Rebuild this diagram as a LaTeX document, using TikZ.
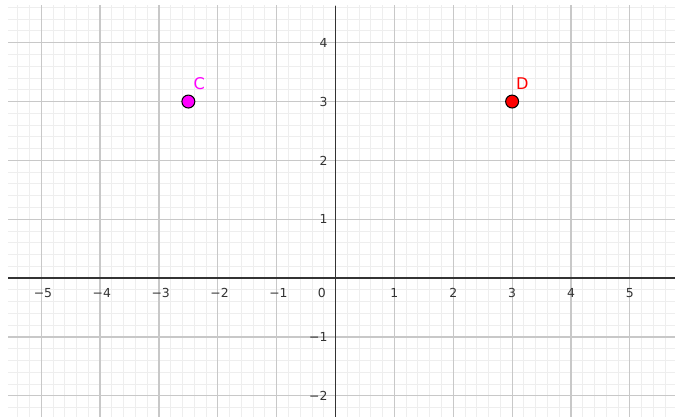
\documentclass[tikz,border=0pt]{standalone}
\usepackage{fontspec}
\setmainfont{DejaVu Sans}
\definecolor{ggmag}{RGB}{255,0,255}
\definecolor{ggred}{RGB}{255,0,0}
\definecolor{minorcol}{RGB}{238,238,238}
\definecolor{majorcol}{RGB}{200,200,200}
\definecolor{axiscol}{RGB}{51,51,51}
\begin{document}
\begin{tikzpicture}[
  minorgrid/.style={draw=minorcol, line width=0.45pt},
  majorgrid/.style={draw=majorcol, line width=0.55pt},
  axisline/.style={draw=axiscol, line width=0.8pt},
  ticklab/.style={text=axiscol, font=\fontsize{6}{7}\selectfont, inner sep=0pt},
  ptstyle/.style={circle, draw=black, line width=0.5pt, minimum size=0.22cm, inner sep=0pt},
  ptlab/.style={font=\fontsize{7.8}{9}\selectfont, inner sep=0pt}
]
\useasboundingbox (-5.700,-2.355) rectangle (5.767,4.725);
\fill[white] (-5.700,-2.355) rectangle (5.767,4.725);
\begin{scope}
\clip (-5.564,-2.355) rectangle (5.767,4.623);
\draw[minorgrid, step=0.2] (-5.8,-2.6) grid (5.8,4.8);
\draw[majorgrid, step=1] (-5.8,-2.6) grid (5.8,4.8);
\end{scope}
% axes
\coordinate (xl) at (-5.564,0);
\coordinate (xr) at (5.767,0);
\coordinate (yb) at (0,-2.355);
\coordinate (yt) at (0,4.623);
\draw[axisline] (xl) -- (xr);
\draw[axisline] (yb) -- (yt);
% x labels
\foreach \k/\t in {-5/−5,-4/−4,-3/−3,-2/−2,-1/−1} {
  \node[ticklab] (xlab\k) at (\k+0.03,-0.25) {\t};
}
\foreach \k in {1,2,3,4,5} {
  \node[ticklab] (xlab\k) at (\k,-0.25) {\k};
}
\node[ticklab] (olab) at (-0.233,-0.245) {0};
% y labels
\foreach \k/\t in {-2/−2,-1/−1} {
  \node[ticklab, anchor=east] (ylab\k) at (-0.13,\k) {\t};
}
\foreach \k in {1,2,3,4} {
  \node[ticklab, anchor=east] (ylab\k) at (-0.13,\k) {\k};
}
% points
\node[ptstyle, fill=ggmag] (C) at (-2.5,3) {};
\node[ptlab, text=ggmag] (Clab) at (-2.316,3.311) {C};
\node[ptstyle, fill=ggred] (D) at (3,3) {};
\node[ptlab, text=ggred] (Dlab) at (3.175,3.311) {D};
\end{tikzpicture}
\end{document}
